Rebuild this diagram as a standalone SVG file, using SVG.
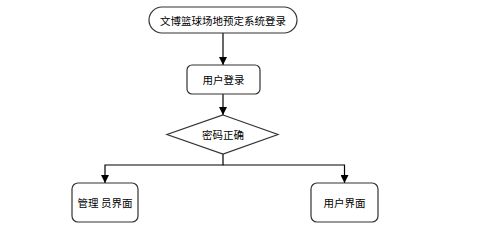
<svg xmlns="http://www.w3.org/2000/svg" width="495" height="232" viewBox="0 0 495 232">
<defs>
<style>
.box{fill:#ffffff;stroke:#333333;stroke-width:1.2}
.lbl{font-family:"Noto Sans CJK SC","Liberation Sans",sans-serif;font-size:10.5px;fill:#000000;text-anchor:middle;dominant-baseline:central}
.edge{fill:none;stroke:#000000;stroke-width:1.2}
</style>
<marker id="arr" viewBox="0 0 10 10" refX="10" refY="5" markerWidth="8" markerHeight="8" markerUnits="userSpaceOnUse" orient="auto">
<path d="M0,0 L10,5 L0,10 Z" fill="#000000"/>
</marker>
</defs>
<rect width="495" height="232" fill="#ffffff"/>
<g id="connectors">
<path class="edge" d="M223,33 V65" marker-end="url(#arr)"/>
<path class="edge" d="M223,94 V115" marker-end="url(#arr)"/>
<path class="edge" d="M223,154 V165 H105 V183" marker-end="url(#arr)"/>
<path class="edge" d="M223,165 H344.5 V183" marker-end="url(#arr)"/>
</g>
<g id="start">
<rect class="box" x="149" y="7" width="148" height="26" rx="13"/>
<text class="lbl" x="223" y="20" font-size="11">文博篮球场地预定系统登录</text>
</g>
<g id="login">
<rect class="box" x="187" y="65" width="73" height="29" rx="5"/>
<text class="lbl" x="223.5" y="79.5">用户登录</text>
</g>
<g id="check">
<polygon class="box" points="223,115 278,134.5 223,154 167,134.5"/>
<text class="lbl" x="223" y="134.5">密码正确</text>
</g>
<g id="admin">
<rect class="box" x="72" y="183" width="66" height="39" rx="6"/>
<text class="lbl" x="105" y="202.5">管理 员界面</text>
</g>
<g id="user">
<rect class="box" x="311" y="183" width="67" height="39" rx="6"/>
<text class="lbl" x="344.5" y="202.5">用户界面</text>
</g>
</svg>
